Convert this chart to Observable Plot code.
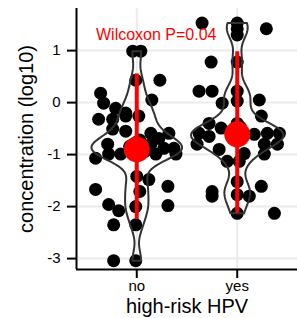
<!DOCTYPE html>
<html><head><meta charset="utf-8">
<script src="https://cdn.jsdelivr.net/npm/d3@7"></script>
<script src="https://cdn.jsdelivr.net/npm/@observablehq/plot@0.6"></script>
<style>body{margin:0;background:#fff;font-family:"Liberation Sans",Arial,sans-serif;}</style>
</head><body><div id="chart"></div>
<script>
const categories = ["no", "yes"];
const noValues = [0.99, 0.99, 0.43, 0.43, 0.18, -0.01, 0.05, -0.11, -0.20, -0.32, -0.32, -0.51, -0.26, -0.55, -0.26, -0.59, -0.59, -0.69, -1.07, -0.80, -0.99, -0.99, -0.80, -0.88, -0.88, -0.99, -0.99, -1.67, -1.48, -1.61, -1.96, -2.08, -1.98, -2.35, -2.35, -3.04, -3.04, -2.00, -1.42, -1.71, -0.84, -0.94,
  -0.72, -0.80, -0.90, -0.94, -1.00, -0.86, -0.92, -0.76, -0.96, -0.84];
const noJitter = [-0.04, 0.04, -0.01, 0.23, -0.36, -0.33, 0.15, -0.21, -0.11, -0.38, -0.24, -0.24, -0.11, -0.11, 0.02, 0.14, 0.32, 0.22, -0.41, -0.29, -0.28, -0.16, 0.14, 0.27, 0.37, 0.39, 0.19, -0.41, 0.12, 0.31, -0.28, -0.18, 0.31, -0.23, -0.01, -0.23, -0.01, -0.01, 0, 0.03, -0.07, 0.08,
  0.03, -0.03, 0, 0.04, -0.02, -0.05, 0.05, 0, 0.02, -0.03];
const yesValues = [1.53, 1.53, 1.42, 1.30, 1.42, 0.78, 0.78, 0.22, 0.22, -0.01, 0.22, 0.03, 0.05, -0.26, -0.40, -0.49, -0.59, -0.80, -0.65, -0.61, -0.59, -0.59, -0.80, -0.80, -0.90, -1.13, -0.98, -0.99, -1.61, -1.71, -1.80, -1.77, -1.80, -2.13, -2.13, -1.52, -0.40, -0.74, -1.13,
  -0.47, -0.53, -0.61, -0.65, -0.71, -0.57, -0.63, -0.51, -0.69, -0.61];
const yesJitter = [-0.35, 0, 0, 0, 0.29, -0.26, 0, -0.38, -0.25, -0.15, 0, 0, 0.22, 0.24, -0.28, -0.16, -0.38, -0.40, -0.28, 0.17, 0.30, 0.42, 0.40, 0.27, -0.18, -0.10, 0.07, 0.27, 0.24, -0.25, -0.25, 0, 0.12, 0, 0.37, 0, 0, 0, 0.02,
  0.03, -0.03, 0, 0.04, -0.02, -0.05, 0.05, 0, 0.02, -0.03];
const summaryMeans = [-0.90, -0.61];
const summaryLows = [-2.25, -2.13];
const summaryHighs = [0.55, 0.98];
const yTicks = [-3, -2, -1, 0, 1];
const annotationText = "Wilcoxon P=0.04";
const annotationPos = [0.594, 1.31];
const xDomain = [0.4, 2.6];
const yDomain = [-3.21, 1.81];

const groups = [noValues, yesValues];
const jitters = [noJitter, yesJitter];
const points = groups.flatMap((vals, g) => vals.map((v, i) => ({x: g + 1 + jitters[g][i], y: v})));
const summary = categories.map((c, g) => ({x: g + 1, mean: summaryMeans[g], lo: summaryLows[g], hi: summaryHighs[g]}));

// violin outlines from a gaussian kernel density estimate of each group
const bw = 0.21;
function kde(vals) {
  const [lo, hi] = d3.extent(vals);
  const n = 160;
  return d3.range(n + 1).map(k => {
    const y = lo + (hi - lo) * k / n;
    const d = d3.mean(vals, v => Math.exp(-0.5 * ((y - v) / bw) ** 2)) / (bw * Math.sqrt(2 * Math.PI));
    return {y, d};
  });
}
const dens = groups.map(kde);
const maxD = d3.max(dens.flat(), p => p.d);
const violin = dens.flatMap((ds, g) => {
  const right = ds.map(p => ({g, y: p.y, x: g + 1 + 0.46 * p.d / maxD}));
  const left = ds.slice().reverse().map(p => ({g, y: p.y, x: g + 1 - 0.46 * p.d / maxD}));
  return [...right, ...left, right[0]];
});

const font = "Liberation Sans, Arial, sans-serif";
const chart = Plot.plot({
  width: 297,
  height: 318,
  marginTop: 8,
  marginBottom: 49,
  marginLeft: 76,
  marginRight: 0,
  style: {fontFamily: font, background: "#fff", color: "black"},
  x: {domain: xDomain, axis: null},
  y: {domain: yDomain, axis: null},
  marks: [
    Plot.gridY(yTicks, {stroke: "#ebebeb", strokeOpacity: 1, strokeWidth: 2}),
    Plot.gridX([1, 2], {stroke: "#ebebeb", strokeOpacity: 1, strokeWidth: 2}),
    Plot.dot(points, {x: "x", y: "y", r: 6.5, fill: "black", stroke: "none"}),
    Plot.line(violin, {x: "x", y: "y", z: "g", stroke: "#333", strokeWidth: 2, curve: "linear"}),
    Plot.ruleX(summary, {x: "x", y1: "lo", y2: "hi", stroke: "#ff0000", strokeWidth: 4}),
    Plot.dot(summary, {x: "x", y: "mean", r: 13, fill: "#ff0000", stroke: "none"}),
    Plot.text([annotationText], {x: annotationPos[0], y: annotationPos[1], text: d => d, textAnchor: "start", fill: "#ff0000", fontSize: 16}),
    Plot.axisY(yTicks, {tickSize: 9, tickPadding: 7, fontSize: 15, strokeWidth: 2, label: null, tickFormat: d => String(d)}),
    Plot.axisX([1, 2], {tickSize: 9, tickPadding: 2, fontSize: 15, strokeWidth: 2, label: null, tickFormat: d => categories[d - 1]}),
    Plot.ruleX([xDomain[0]], {stroke: "black", strokeWidth: 2}),
    Plot.ruleY([yDomain[0]], {stroke: "black", strokeWidth: 2}),
    Plot.text(["concentration (log10)"], {frameAnchor: "left", dx: -50, rotate: -90, textAnchor: "middle", lineAnchor: "middle", fontSize: 20, fill: "black"}),
    Plot.text(["high-risk HPV"], {frameAnchor: "bottom", dy: 37, lineAnchor: "middle", fontSize: 20, fill: "black"})
  ]
});
document.getElementById("chart").appendChild(chart);
</script>
</body></html>
